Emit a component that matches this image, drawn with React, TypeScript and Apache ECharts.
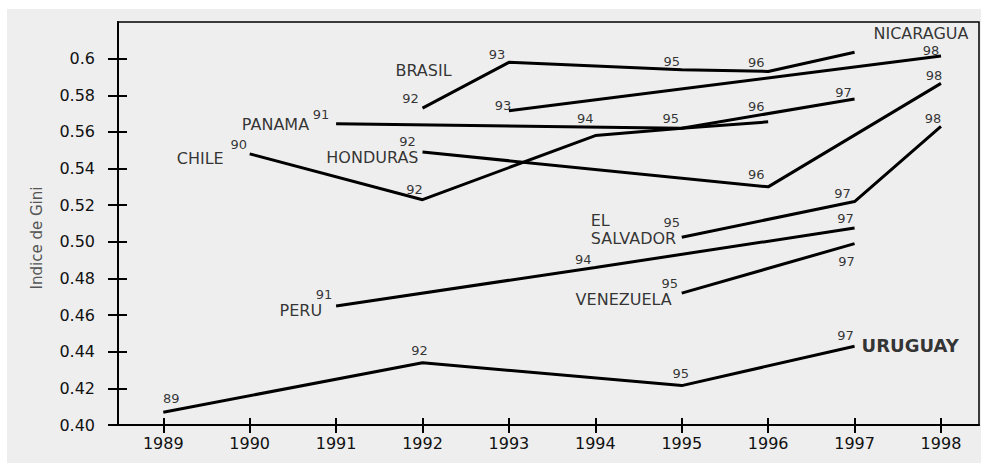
import React, { useEffect, useRef } from "react";
import * as echarts from "echarts";

// ---------- data ----------
const YEAR_TICKS = [1989, 1990, 1991, 1992, 1993, 1994, 1995, 1996, 1997, 1998];
const Y_TICKS = [0.4, 0.42, 0.44, 0.46, 0.48, 0.5, 0.52, 0.54, 0.56, 0.58, 0.6];
const Y_TICK_LABELS = ["0.40", "0.42", "0.44", "0.46", "0.48", "0.50", "0.52", "0.54", "0.56", "0.58", "0.6"];
const Y_AXIS_TITLE = "Indice de Gini";

const URUGUAY_YEARS = [1989, 1992, 1995, 1997];
const URUGUAY_GINI = [0.407, 0.434, 0.4215, 0.443];
const PERU_YEARS = [1991, 1994, 1997];
const PERU_GINI = [0.465, 0.486, 0.5075];
const VENEZUELA_YEARS = [1995, 1997];
const VENEZUELA_GINI = [0.472, 0.499];
const EL_SALVADOR_YEARS = [1995, 1997, 1998];
const EL_SALVADOR_GINI = [0.5025, 0.522, 0.563];
const HONDURAS_YEARS = [1992, 1996, 1998];
const HONDURAS_GINI = [0.549, 0.53, 0.5865];
const CHILE_YEARS = [1990, 1992, 1994, 1995, 1997];
const CHILE_GINI = [0.548, 0.523, 0.558, 0.562, 0.578];
const PANAMA_YEARS = [1991, 1995, 1996];
const PANAMA_GINI = [0.5645, 0.562, 0.5655];
const BRASIL_YEARS = [1992, 1993, 1995, 1996, 1997];
const BRASIL_GINI = [0.573, 0.598, 0.594, 0.593, 0.6035];
const NICARAGUA_YEARS = [1993, 1998];
const NICARAGUA_GINI = [0.5715, 0.6015];

const COUNTRIES = [
  { key: "uruguay", name: "URUGUAY", years: URUGUAY_YEARS, gini: URUGUAY_GINI },
  { key: "peru", name: "PERU", years: PERU_YEARS, gini: PERU_GINI },
  { key: "venezuela", name: "VENEZUELA", years: VENEZUELA_YEARS, gini: VENEZUELA_GINI },
  { key: "elsalvador", name: "EL\nSALVADOR", years: EL_SALVADOR_YEARS, gini: EL_SALVADOR_GINI },
  { key: "honduras", name: "HONDURAS", years: HONDURAS_YEARS, gini: HONDURAS_GINI },
  { key: "chile", name: "CHILE", years: CHILE_YEARS, gini: CHILE_GINI },
  { key: "panama", name: "PANAMA", years: PANAMA_YEARS, gini: PANAMA_GINI },
  { key: "brasil", name: "BRASIL", years: BRASIL_YEARS, gini: BRASIL_GINI },
  { key: "nicaragua", name: "NICARAGUA", years: NICARAGUA_YEARS, gini: NICARAGUA_GINI },
];

// ---------- label layout (styles only) ----------
// offset of each year label's centre from its point (null: no label)
const YEAR_LABEL_OFFSETS: Record<string, (number[] | null)[]> = {
  uruguay: [[8, -14], [-3, -12], [-1, -12], [-9, -11]],
  peru: [[-12, -11], [-12, -8], [-9, -10]],
  venezuela: [[-12, -10], [-8, 18]],
  elsalvador: [[-10, -15], [-12, -8], [-8, -8]],
  honduras: [[-15, -11], [-12, -12], [-7, -8]],
  chile: [[-11, -9], [-8, -10], [-10, -17], [-11, -10], [-11, -6]],
  panama: [[-15, -9], null, [-12, -15]],
  brasil: [[-12, -10], [-12, -8], [-10, -8], [-12, -9], null],
  nicaragua: [[-6, -5], [-10, -5]],
};
// where each country name sits: point index, offset, alignment
const NAME_LAYOUT: Record<string, { idx: number; offset: number[]; align: string; bold?: boolean }> = {
  uruguay: { idx: 3, offset: [7, -1], align: "left", bold: true },
  peru: { idx: 0, offset: [-14, 5], align: "right" },
  venezuela: { idx: 0, offset: [-10, 6], align: "right" },
  elsalvador: { idx: 0, offset: [-91, -8], align: "left" },
  honduras: { idx: 0, offset: [-4, 5], align: "right" },
  chile: { idx: 0, offset: [-26, 5], align: "right" },
  panama: { idx: 0, offset: [-27, 1], align: "right" },
  brasil: { idx: 0, offset: [1, -38], align: "center" },
  nicaragua: { idx: 1, offset: [-20, -22], align: "center" },
};

const FONT = "'DejaVu Sans', sans-serif";
const INK = "#000";

export default function App() {
  const ref = useRef<HTMLDivElement>(null);

  useEffect(() => {
    document.body.style.margin = "0";
    if (!ref.current) return;
    const chart = echarts.init(ref.current, null, { renderer: "svg" });

    const lineSeries = COUNTRIES.map((c) => ({
      type: "line",
      name: c.key,
      data: c.years.map((y, i) => [y, c.gini[i]]),
      symbol: "none",
      lineStyle: { color: "#000", width: 3 },
      z: 3,
      silent: true,
    }));

    const labelData: any[] = [];
    COUNTRIES.forEach((c) => {
      const offs = YEAR_LABEL_OFFSETS[c.key];
      c.years.forEach((y, i) => {
        const o = offs[i];
        if (!o) return;
        labelData.push({
          value: [y, c.gini[i]],
          label: {
            show: true,
            formatter: String(y).slice(2),
            offset: o,
            fontSize: 13,
            color: INK,
            textBorderWidth: 0,
          },
        });
      });
      const nl = NAME_LAYOUT[c.key];
      labelData.push({
        value: [c.years[nl.idx], c.gini[nl.idx]],
        label: {
          show: true,
          formatter: c.name,
          offset: nl.offset,
          align: nl.align,
          verticalAlign: "middle",
          fontSize: nl.bold ? 18 : 16,
          fontWeight: nl.bold ? "bold" : "normal",
          lineHeight: 18,
          color: INK,
          textBorderWidth: 0,
        },
      });
    });

    const xCommon = {
      type: "value",
      min: 1988.476,
      max: 1998.44,
      splitLine: { show: false },
    };
    const yCommon = {
      type: "value",
      min: 0.4,
      max: 0.62,
      splitLine: { show: false },
    };

    chart.setOption({
      animation: false,
      backgroundColor: "transparent",
      textStyle: { fontFamily: FONT },
      grid: {
        left: 118,
        right: 2,
        top: 22,
        bottom: 38,
        show: true,
        borderColor: "#000",
        borderWidth: 1.5,
        backgroundColor: "transparent",
      },
      xAxis: [
        {
          ...xCommon,
          position: "bottom",
          axisLine: { show: true, lineStyle: { color: "#000", width: 2 } },
          axisTick: { show: true, customValues: YEAR_TICKS, length: 8, inside: false, lineStyle: { color: "#000", width: 2 } },
          axisLabel: {
            show: true,
            customValues: YEAR_TICKS,
            formatter: (v: number) => String(Math.round(v)),
            fontSize: 16,
            color: "#111",
            margin: 10,
            fontFamily: FONT,
          },
        },
        {
          ...xCommon,
          position: "bottom",
          axisLine: { show: false },
          axisTick: { show: true, customValues: YEAR_TICKS, length: 7, inside: true, lineStyle: { color: "#000", width: 2 } },
          axisLabel: { show: false },
        },
      ],
      yAxis: [
        {
          ...yCommon,
          position: "left",
          axisLine: { show: true, lineStyle: { color: "#000", width: 2 } },
          axisTick: { show: true, customValues: Y_TICKS, length: 10, inside: false, lineStyle: { color: "#000", width: 2 } },
          axisLabel: {
            show: true,
            customValues: Y_TICKS,
            formatter: (v: number) => {
              const i = Y_TICKS.findIndex((t) => Math.abs(t - v) < 1e-6);
              return i >= 0 ? Y_TICK_LABELS[i] : "";
            },
            fontSize: 16,
            color: "#111",
            margin: 23,
            fontFamily: FONT,
          },
        },
        {
          ...yCommon,
          position: "left",
          offset: 0,
          axisLine: { show: false },
          axisTick: { show: true, customValues: Y_TICKS, length: 9, inside: true, lineStyle: { color: "#000", width: 2 } },
          axisLabel: { show: false },
        },
      ],
      graphic: [
        {
          type: "text",
          x: 37,
          y: 238,
          rotation: Math.PI / 2,
          style: {
            text: Y_AXIS_TITLE,
            fontSize: 15,
            fontFamily: FONT,
            fill: "#555",
            align: "center",
            verticalAlign: "middle",
          },
        },
      ],
      series: [
        ...lineSeries,
        {
          type: "scatter",
          name: "labels",
          data: labelData,
          symbolSize: 1,
          itemStyle: { color: "rgba(0,0,0,0)" },
          label: {
            show: true,
            position: "inside",
            color: INK,
            fontFamily: FONT,
            textBorderWidth: 0,
          },
          z: 5,
          silent: true,
        },
      ],
    });

    return () => chart.dispose();
  }, []);

  return (
    <div style={{ position: "relative", width: 981, height: 463, background: "#fff", overflow: "hidden" }}>
      <div style={{ position: "absolute", left: 7, top: 9, right: 0, bottom: 0, background: "#eeeeee" }} />
      <div ref={ref} style={{ position: "absolute", left: 0, top: 0, width: 981, height: 463 }} />
    </div>
  );
}
